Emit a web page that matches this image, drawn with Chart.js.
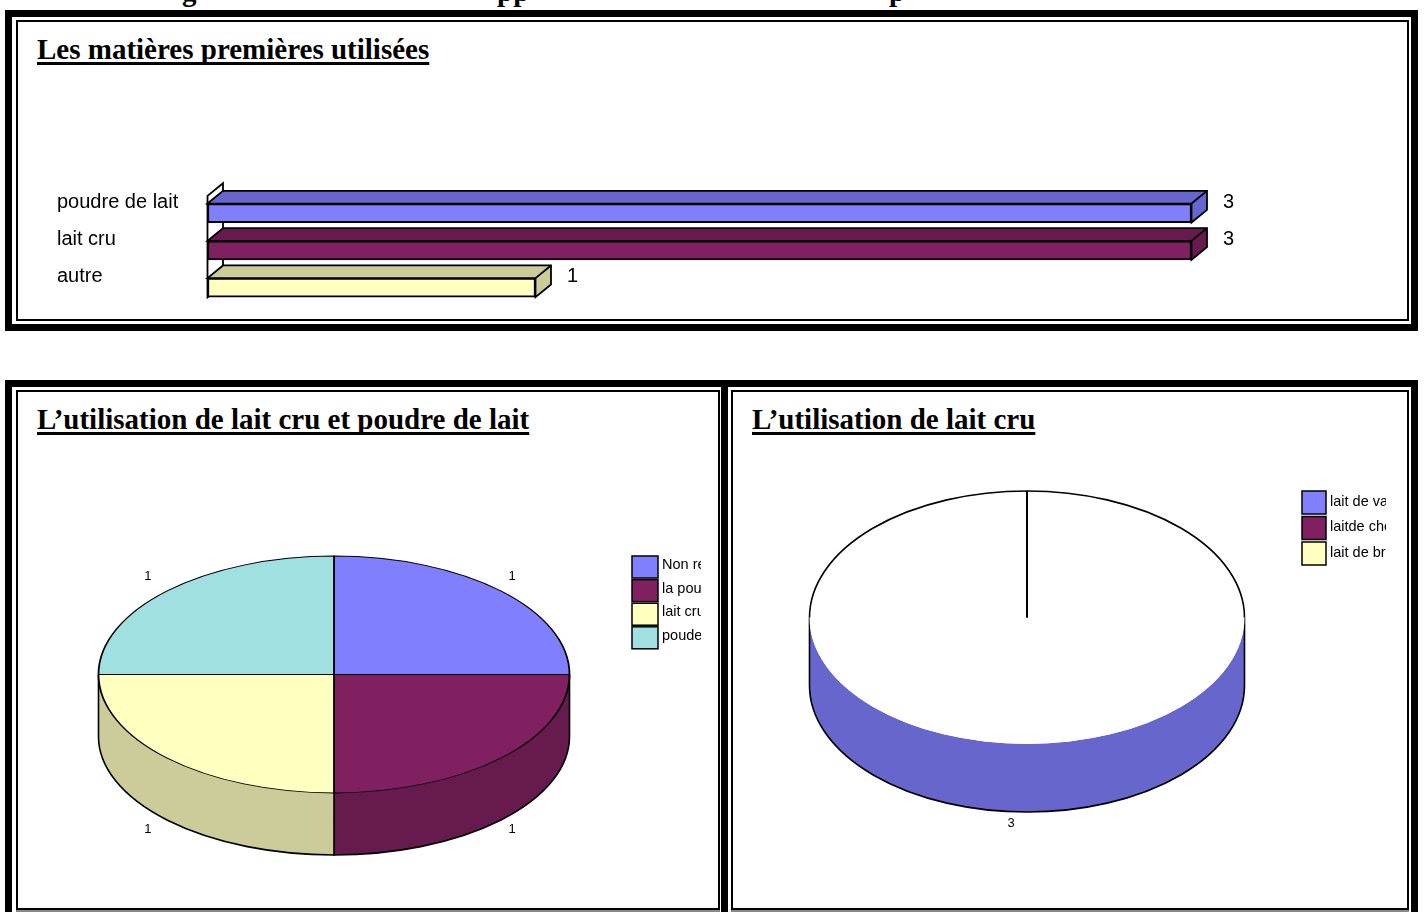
<!DOCTYPE html>
<html lang="fr">
<head>
<meta charset="utf-8">
<title>Matières premières</title>
<script src="https://cdn.jsdelivr.net/npm/chart.js@4/dist/chart.umd.js"></script>
<style>
  html, body { margin: 0; padding: 0; background: #fff; }
  body { position: relative; width: 1424px; height: 912px; overflow: hidden; }
  .frame { position: absolute; box-sizing: border-box; border: 7px solid #000; }
  .inner { position: absolute; box-sizing: border-box; border: 2px solid #000; background: #fff; }
  .low { box-shadow: 0 2px 0 #888; }
  canvas { position: absolute; }
  h2 {
    position: absolute; margin: 0;
    font: bold 29px "Liberation Serif", serif;
    color: #000; text-decoration: underline; text-decoration-thickness: 3px;
    text-decoration-skip-ink: none; text-underline-offset: 3px; white-space: nowrap;
  }
  .cut { position: absolute; top: -25px; font: bold 29px "Liberation Serif", serif; color: #000; }
</style>
</head>
<body>
<span class="cut" style="left:182px">g</span>
<span class="cut" style="left:497px">pp</span>
<span class="cut" style="left:889px">p</span>

<div class="frame" style="left:5px;top:10px;width:1413px;height:321px"></div>
<div class="inner" style="left:16px;top:20px;width:1393px;height:301px"></div>
<div class="frame" style="left:5px;top:380px;width:723px;height:560px"></div>
<div class="frame" style="left:721px;top:380px;width:697px;height:560px"></div>
<div class="inner low" style="left:16px;top:390px;width:704px;height:520px"></div>
<div class="inner low" style="left:731px;top:390px;width:678px;height:520px"></div>

<h2 style="left:37px;top:33px">Les matières premières utilisées</h2>
<h2 style="left:37px;top:403px">L’utilisation de lait cru et poudre de lait</h2>
<h2 style="left:752px;top:403px">L’utilisation de lait cru</h2>

<canvas id="barChart" width="1388" height="296" style="left:18px;top:22px"></canvas>
<canvas id="mixPie" width="684" height="516" style="left:17px;top:392px"></canvas>
<canvas id="cruPie" width="654" height="516" style="left:732px;top:392px"></canvas>

<script>
const materialLabels = ["poudre de lait", "lait cru", "autre"];
const materialValues = [3, 3, 1];
const materialFront = ["#8080ff", "#802060", "#ffffc0"];
const materialDark = ["#6666cc", "#661a4d", "#cccc9a"];

const mixLabels = ["Non réponse", "la poudre de lait", "lait cru", "poude de lait et lait cru"];
const mixValues = [1, 1, 1, 1];
const mixTop = ["#8080ff", "#802060", "#ffffc0", "#a0e0e0"];
const mixWall = ["#6666cc", "#661a4d", "#cccc9a", "#80b3b3"];

const cruLabels = ["lait de vache", "laitde chèvre", "lait de brebis"];
const cruValues = [3, 0, 0];
const cruTop = ["#ffffff", "#802060", "#ffffc0"];
const cruWall = ["#6666cc", "#661a4d", "#cccc9a"];
const cruLegend = ["#8080ff", "#802060", "#ffffc0"];

Chart.defaults.font.family = '"Liberation Sans", Arial, sans-serif';
Chart.defaults.color = "#000";
Chart.defaults.animation = false;

// extruded faces behind the horizontal bars + value labels
const bar3d = {
  id: "bar3d",
  beforeDatasetsDraw(chart) {
    const { ctx, chartArea } = chart;
    const dx = 15.5, dy = 12.7;
    const left = chartArea.left, top = chartArea.top + 1.5, bottom = chartArea.bottom - 9;

    ctx.save();
    ctx.strokeStyle = "#000";
    ctx.lineWidth = 1.8;
    ctx.fillStyle = "#fff";
    ctx.beginPath();
    ctx.moveTo(left, top);
    ctx.lineTo(left + dx, top - dy);
    ctx.lineTo(left + dx, bottom - dy);
    ctx.lineTo(left, bottom);
    ctx.closePath();
    ctx.fill();
    ctx.stroke();

    chart.getDatasetMeta(0).data.forEach((bar, i) => {
      const { x, y, base, height } = bar.getProps(["x", "y", "base", "height"]);
      const t = y - height / 2, b = y + height / 2;
      ctx.fillStyle = materialDark[i];
      ctx.beginPath();
      ctx.moveTo(base, t);
      ctx.lineTo(base + dx, t - dy);
      ctx.lineTo(x + dx, t - dy);
      ctx.lineTo(x + dx, b - dy);
      ctx.lineTo(x, b);
      ctx.lineTo(x, t);
      ctx.closePath();
      ctx.fill();
      ctx.stroke();
      ctx.beginPath();
      ctx.moveTo(x, t);
      ctx.lineTo(x + dx, t - dy);
      ctx.stroke();
    });
    ctx.restore();
  },
  afterDatasetsDraw(chart) {
    const { ctx } = chart;
    ctx.save();
    ctx.font = '20px "Liberation Sans", Arial, sans-serif';
    ctx.fillStyle = "#000";
    ctx.textBaseline = "middle";
    chart.getDatasetMeta(0).data.forEach((bar, i) => {
      ctx.fillText(materialValues[i], bar.x + 31.5, bar.y - 11);
    });
    ctx.restore();
  },
};

new Chart(document.getElementById("barChart"), {
  type: "bar",
  data: {
    labels: materialLabels,
    datasets: [{
      data: materialValues,
      backgroundColor: materialFront,
      borderColor: "#000",
      borderWidth: 2,
      borderSkipped: false,
      barThickness: 19,
    }],
  },
  options: {
    responsive: false,
    indexAxis: "y",
    layout: { padding: { left: 39, right: 214.5, top: 172.4, bottom: 11.7 } },
    plugins: { legend: { display: false }, tooltip: { enabled: false } },
    scales: {
      x: { display: false, min: 0, max: 3 },
      y: {
        grid: { display: false },
        border: { display: false },
        afterFit(scale) {
          scale.width = 150.5;
          scale.paddingTop = 0;
          scale.paddingBottom = 0;
        },
        ticks: {
          crossAlign: "far",
          labelOffset: -11,
          font: { size: 20 },
          color: "#000",
        },
      },
    },
  },
  plugins: [bar3d],
});

// squashes the library's arcs into an ellipse, adds the rim below
const pie3d = {
  id: "pie3d",
  beforeDatasetsDraw(chart, args, opts) {
    const { ctx } = chart;
    const arcs = chart.getDatasetMeta(0).data;
    const cx = arcs[0].x, cy = arcs[0].y;
    const rx = arcs[0].outerRadius, ry = rx * opts.squash;

    ctx.save();
    ctx.strokeStyle = "#000";
    ctx.lineWidth = 1.6;
    arcs.forEach((arc, i) => {
      const from = Math.max(arc.startAngle, 0), to = Math.min(arc.endAngle, Math.PI);
      if (to <= from) return;
      const x0 = cx + Math.cos(from) * rx, y0 = opts.centerY + Math.sin(from) * ry;
      ctx.fillStyle = opts.wall[i];
      ctx.beginPath();
      ctx.ellipse(cx, opts.centerY, rx, ry, 0, from, to);
      ctx.ellipse(cx, opts.centerY + opts.depth, rx, ry, 0, to, from, true);
      ctx.closePath();
      ctx.fill();
      // only the sides and the lower curve get an outline
      ctx.beginPath();
      ctx.moveTo(x0, y0);
      ctx.lineTo(x0, y0 + opts.depth);
      ctx.ellipse(cx, opts.centerY + opts.depth, rx, ry, 0, from, to);
      ctx.lineTo(cx + Math.cos(to) * rx, opts.centerY + Math.sin(to) * ry);
      ctx.stroke();
    });
    ctx.restore();

    ctx.save();
    ctx.translate(0, opts.centerY);
    ctx.scale(1, opts.squash);
    ctx.translate(0, -cy);
  },
  afterDatasetsDraw(chart, args, opts) {
    const { ctx } = chart;
    ctx.restore();

    const arcs = chart.getDatasetMeta(0).data;
    const cx = arcs[0].x;
    const rx = arcs[0].outerRadius, ry = rx * opts.squash;

    ctx.save();
    ctx.strokeStyle = "#000";
    if (opts.borderWidth === 0) {
      ctx.lineWidth = 1.6;
      ctx.beginPath();
      ctx.ellipse(cx, opts.centerY, rx, ry, 0, Math.PI, 2 * Math.PI);
      ctx.stroke();
    }
    ctx.lineWidth = 2;
    arcs.forEach((arc) => {
      if (arc.circumference > 0) return;
      ctx.beginPath();
      ctx.moveTo(cx, opts.centerY);
      ctx.lineTo(cx + Math.cos(arc.startAngle) * rx, opts.centerY + Math.sin(arc.startAngle) * ry);
      ctx.stroke();
    });

    ctx.font = '13px "Liberation Sans", Arial, sans-serif';
    ctx.fillStyle = "#000";
    ctx.textAlign = "center";
    ctx.textBaseline = "middle";
    arcs.forEach((arc, i) => {
      if (!(arc.circumference > 0)) return;
      const mid = (arc.startAngle + arc.endAngle) / 2;
      const sin = Math.sin(mid);
      const y = sin < 0
        ? opts.centerY + sin * ry * 1.17
        : opts.centerY + sin * ry * opts.labelBelow + opts.depth;
      ctx.fillText(chart.data.datasets[0].data[i], cx + Math.cos(mid) * rx * opts.labelSpread + opts.labelShift, y);
    });
    ctx.restore();

    // legend, clipped by the canvas edge like the reference
    const box = opts.legendBox;
    ctx.save();
    ctx.font = '14.5px "Liberation Sans", Arial, sans-serif';
    ctx.textBaseline = "middle";
    ctx.lineWidth = 1.5;
    ctx.strokeStyle = "#000";
    chart.data.labels.forEach((text, i) => {
      const y = box.y + i * box.step;
      ctx.fillStyle = opts.legendColors[i];
      ctx.fillRect(box.x, y, box.w, box.h);
      ctx.strokeRect(box.x, y, box.w, box.h);
      ctx.fillStyle = "#000";
      ctx.fillText(text, box.x + box.w + 4, y + box.h / 2 - box.lift);
    });
    ctx.restore();
  },
};

function makePie(id, labels, values, top, opts) {
  return new Chart(document.getElementById(id), {
    type: "pie",
    data: {
      labels: labels,
      datasets: [{
        data: values,
        backgroundColor: top,
        borderColor: "#000",
        borderWidth: opts.borderWidth,
        clip: false,
      }],
    },
    options: {
      responsive: false,
      radius: opts.radius,
      layout: { padding: opts.padding },
      plugins: {
        tooltip: { enabled: false },
        legend: { display: false },
        pie3d: opts,
      },
    },
    plugins: [pie3d],
  });
}

makePie("mixPie", mixLabels, mixValues, mixTop, {
  radius: 235.5, padding: { left: 72, right: 122, top: 0, bottom: 0 },
  borderWidth: 1.8, squash: 0.503, centerY: 282.5, depth: 62, wall: mixWall,
  labelSpread: 1.093, labelShift: -4, labelBelow: 1.11, legendColors: mixTop,
  legendBox: { x: 615, y: 164, w: 26, h: 22, step: 23.6, lift: 2 },
});

makePie("cruPie", cruLabels, cruValues, cruTop, {
  radius: 217.5, padding: { left: 57.5, right: 121.5, top: 0, bottom: 0 },
  borderWidth: 0, squash: 0.5816, centerY: 225.5, depth: 68, wall: cruWall,
  labelSpread: 1, labelShift: -16, labelBelow: 1.09, legendColors: cruLegend,
  legendBox: { x: 570, y: 99, w: 24, h: 23, step: 25.5, lift: 1 },
});
</script>
</body>
</html>
